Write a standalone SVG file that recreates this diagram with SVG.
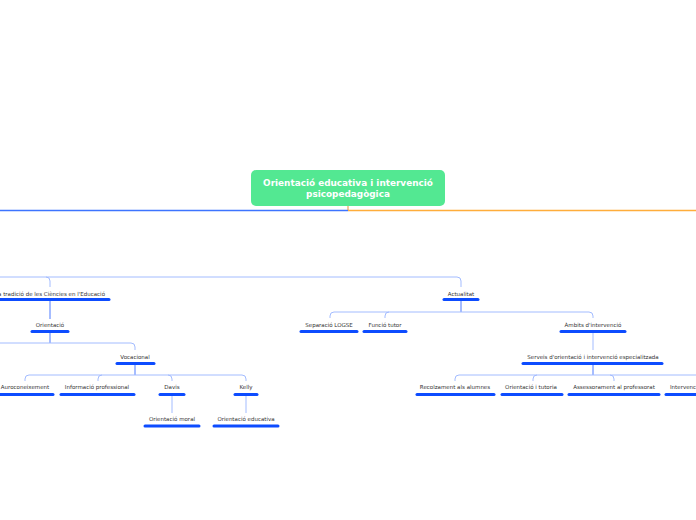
<svg xmlns="http://www.w3.org/2000/svg" width="696" height="520" viewBox="0 0 696 520">
<style>
.t{font-family:"DejaVu Sans","Liberation Sans",sans-serif;font-size:5.5px;fill:#333;text-anchor:middle}
.bar{stroke:#0d4cff;stroke-width:3;stroke-linecap:round;fill:none}
.br{stroke:#a3bcff;stroke-width:1;fill:none}
.st{stroke:#4d7bff;stroke-width:1;fill:none}
.h{font-family:"DejaVu Sans",sans-serif;font-size:8.9px;font-weight:bold;fill:#fff;text-anchor:middle}
</style>
<rect width="696" height="520" fill="#fff"/>
<g id="connectors">
<line x1="0" y1="210.5" x2="348" y2="210.5" stroke="#3d74ff" stroke-width="1.5"/>
<line x1="348" y1="210.5" x2="696" y2="210.5" stroke="#ffad3b" stroke-width="1.5"/>
<line x1="348" y1="206" x2="348" y2="210" stroke="#e8913a" stroke-width="1"/>
<path class="br" d="M0,277 H457 Q461,277 461,281 V287"/>
<path class="br" d="M46,277 Q50,277 50,281 V287"/>
<path class="st" d="M50,301 V319"/>
<path class="st" d="M50,333 V343"/>
<path class="br" d="M0,343 H131 Q135,343 135,347 V350"/>
<path class="st" d="M135,365 V375"/>
<path class="br" d="M25,381 V379 Q25,375 29,375 H242 Q246,375 246,379 V381"/>
<path class="br" d="M98,381 V379 Q98,375 102,375"/>
<path class="br" d="M172,381 V379 Q172,375 168,375"/>
<path class="br" d="M172,396 V413"/>
<path class="br" d="M246,396 V413"/>
<path class="st" d="M461,301 V312"/>
<path class="br" d="M330,318 V316 Q330,312 334,312 H589 Q593,312 593,316 V318"/>
<path class="br" d="M385,318 V316 Q385,312 389,312"/>
<path class="br" d="M593,333 V350"/>
<path class="st" d="M593,365 V375"/>
<path class="br" d="M455,381 V379 Q455,375 459,375 H696"/>
<path class="br" d="M533,381 V379 Q533,375 537,375"/>
<path class="br" d="M614,381 V379 Q614,375 610,375"/>
</g>
<g id="root">
<rect x="251" y="170" width="194" height="36" rx="5" fill="#53e892"/>
<text class="h" x="348" y="186">Orientació educativa i intervenció</text>
<text class="h" x="348" y="197">psicopedagògica</text>
</g>
<g id="n-tradicio"><text class="t" x="50" y="295.5">La tradició de les Ciències en l'Educació</text><line class="bar" x1="-10" y1="299.5" x2="109" y2="299.5"/></g>
<g id="n-orientacio"><text class="t" x="50" y="327">Orientació</text><line class="bar" x1="32" y1="331.5" x2="68" y2="331.5"/></g>
<g id="n-vocacional"><text class="t" x="135" y="358.5">Vocacional</text><line class="bar" x1="117" y1="363.5" x2="154" y2="363.5"/></g>
<g id="n-auro"><text class="t" x="25" y="389">Auroconeixement</text><line class="bar" x1="-3" y1="394.5" x2="53" y2="394.5"/></g>
<g id="n-info"><text class="t" x="97" y="389">Informació professional</text><line class="bar" x1="61" y1="394.5" x2="134" y2="394.5"/></g>
<g id="n-davis"><text class="t" x="172" y="389">Davis</text><line class="bar" x1="160" y1="394.5" x2="184" y2="394.5"/></g>
<g id="n-kelly"><text class="t" x="246" y="389">Kelly</text><line class="bar" x1="235" y1="394.5" x2="257" y2="394.5"/></g>
<g id="n-moral"><text class="t" x="172" y="421">Orientació moral</text><line class="bar" x1="145" y1="426" x2="199" y2="426"/></g>
<g id="n-educativa"><text class="t" x="246" y="421">Orientació educativa</text><line class="bar" x1="214" y1="426" x2="278" y2="426"/></g>
<g id="n-actualitat"><text class="t" x="461" y="295.5">Actualitat</text><line class="bar" x1="444" y1="299.5" x2="478" y2="299.5"/></g>
<g id="n-logse"><text class="t" x="329" y="327">Separació LOGSE</text><line class="bar" x1="301" y1="331.5" x2="357" y2="331.5"/></g>
<g id="n-tutor"><text class="t" x="385" y="327">Funció tutor</text><line class="bar" x1="364" y1="331.5" x2="406" y2="331.5"/></g>
<g id="n-ambits"><text class="t" x="593" y="327">Àmbits d'intervenció</text><line class="bar" x1="561" y1="331.5" x2="625" y2="331.5"/></g>
<g id="n-serveis"><text class="t" x="593" y="358.5">Serveis d'orientació i intervenció especialitzada</text><line class="bar" x1="523" y1="363.5" x2="662" y2="363.5"/></g>
<g id="n-recolzament"><text class="t" x="455" y="389">Recolzament als alumnes</text><line class="bar" x1="417" y1="394.5" x2="494" y2="394.5"/></g>
<g id="n-tutoria"><text class="t" x="531" y="389">Orientació i tutoria</text><line class="bar" x1="502" y1="394.5" x2="562" y2="394.5"/></g>
<g id="n-assessorament"><text class="t" x="614" y="389">Assessorament al professorat</text><line class="bar" x1="569" y1="394.5" x2="659" y2="394.5"/></g>
<g id="n-intervencio"><text class="t" x="670" y="389" style="text-anchor:start">Intervenció</text><line class="bar" x1="666" y1="394.5" x2="710" y2="394.5"/></g>
</svg>
